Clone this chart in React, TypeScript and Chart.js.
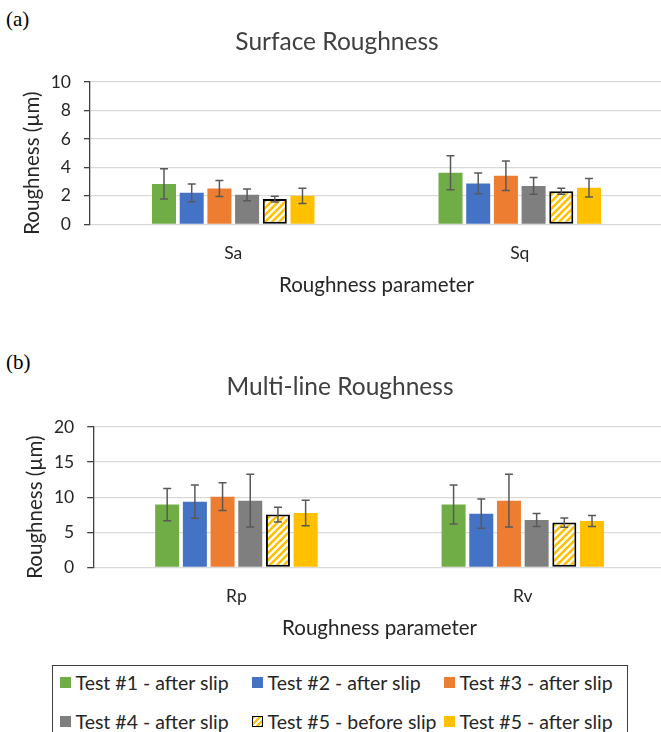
import React, { useEffect, useRef } from 'react';
import { Chart, registerables } from 'chart.js';

Chart.register(...registerables);

const FONT = 'Lato, "Open Sans", sans-serif';
const TEXT = '#262626';
const GRID = '#d9d9d9';
const AXIS = '#404040';
const ERR = '#595959';

// Series shared by both panels
const seriesLabels = [
  'Test #1 - after slip',
  'Test #2 - after slip',
  'Test #3 - after slip',
  'Test #4 - after slip',
  'Test #5 - before slip',
  'Test #5 - after slip',
];
const seriesColors = ['#70AD47', '#4472C4', '#ED7D31', '#7F7F7F', '#FFC000', '#FFC000'];
const hatchedSeries = 4;

// (a) Surface roughness: one value per test, per parameter
const surfaceParams = ['Sa', 'Sq'];
const saMeans = [2.84, 2.21, 2.52, 2.07, 1.77, 2.0];
const saErrors = [1.07, 0.62, 0.56, 0.41, 0.2, 0.53];
const sqMeans = [3.62, 2.87, 3.41, 2.7, 2.33, 2.56];
const sqErrors = [1.2, 0.73, 1.04, 0.59, 0.21, 0.65];
const surfaceTicks = [0, 2, 4, 6, 8, 10];

// (b) Multi-line roughness
const lineParams = ['Rp', 'Rv'];
const rpMeans = [8.94, 9.36, 10.07, 9.5, 7.51, 7.74];
const rpErrors = [2.3, 2.36, 1.98, 3.75, 1.05, 1.83];
const rvMeans = [8.94, 7.65, 9.5, 6.75, 6.37, 6.6];
const rvErrors = [2.78, 2.1, 3.75, 0.93, 0.66, 0.79];
const lineTicks = [0, 5, 10, 15, 20];

const yAxisTitle = 'Roughness (µm)';
const xAxisTitle = 'Roughness parameter';

function makeHatch(): CanvasPattern | string {
  const size = 7;
  const c = document.createElement('canvas');
  c.width = size;
  c.height = size;
  const g = c.getContext('2d');
  if (!g) return seriesColors[hatchedSeries];
  g.fillStyle = '#ffffff';
  g.fillRect(0, 0, size, size);
  g.strokeStyle = seriesColors[hatchedSeries];
  g.lineWidth = 2.6;
  g.lineCap = 'square';
  for (const o of [-size, 0, size]) {
    g.beginPath();
    g.moveTo(o, size);
    g.lineTo(o + size, 0);
    g.stroke();
  }
  return g.createPattern(c, 'repeat') || seriesColors[hatchedSeries];
}

const errorBarPlugin = {
  id: 'errorBars',
  afterDatasetsDraw(chart: any) {
    const { ctx } = chart;
    const yScale = chart.scales.y;
    ctx.save();
    ctx.strokeStyle = ERR;
    ctx.lineWidth = 1.5;
    chart.data.datasets.forEach((ds: any, di: number) => {
      const meta = chart.getDatasetMeta(di);
      meta.data.forEach((bar: any, i: number) => {
        const v = ds.data[i];
        const e = ds.errors[i];
        const top = yScale.getPixelForValue(v + e);
        const bot = yScale.getPixelForValue(v - e);
        const x = bar.x;
        ctx.beginPath();
        ctx.moveTo(x, top);
        ctx.lineTo(x, bot);
        ctx.moveTo(x - 4, top);
        ctx.lineTo(x + 4, top);
        ctx.moveTo(x - 4, bot);
        ctx.lineTo(x + 4, bot);
        ctx.stroke();
      });
    });
    ctx.restore();
  },
};

// Vertical axis title, sitting a little below the middle of the plot
const yTitlePlugin = {
  id: 'yTitle',
  afterDraw(chart: any) {
    const { ctx, chartArea } = chart;
    const yScale = chart.scales.y;
    const x = yScale.left + 21;
    const y = (chartArea.top + chartArea.bottom) / 2 + 10;
    ctx.save();
    ctx.translate(x, y);
    ctx.rotate(-Math.PI / 2);
    ctx.fillStyle = TEXT;
    ctx.font = `20.5px ${FONT}`;
    ctx.textAlign = 'center';
    ctx.textBaseline = 'middle';
    ctx.fillText(yAxisTitle, 0, 0);
    ctx.restore();
  },
};

type PanelSpec = {
  title: string;
  params: string[];
  means: number[][];
  errors: number[][];
  ticks: number[];
  yAxisWidth: number;
  xAxisHeight: number;
};

function buildConfig(spec: PanelSpec): any {
  const hatch = makeHatch();
  const datasets = seriesLabels.map((label, s) => ({
    label,
    data: spec.means.map((m) => m[s]),
    errors: spec.errors.map((e) => e[s]),
    backgroundColor: s === hatchedSeries ? hatch : seriesColors[s],
    borderColor: s === hatchedSeries ? '#000000' : seriesColors[s],
    borderWidth: s === hatchedSeries ? 2 : 0,
    borderSkipped: false,
    categoryPercentage: 0.58,
    barPercentage: 0.867,
  }));
  const ticks = spec.ticks;
  return {
    type: 'bar',
    data: { labels: spec.params, datasets },
    plugins: [errorBarPlugin, yTitlePlugin],
    options: {
      responsive: false,
      animation: false,
      devicePixelRatio: 1,
      layout: { padding: 0 },
      plugins: {
        legend: { display: false },
        tooltip: { enabled: false },
        title: {
          display: true,
          text: spec.title,
          color: AXIS,
          font: { family: FONT, size: 24.5, weight: 'normal' },
          padding: { top: 27.4, bottom: 25.2 },
        },
      },
      scales: {
        x: {
          grid: { display: false, drawTicks: false },
          border: { display: false },
          ticks: { color: TEXT, font: { family: FONT, size: 17.5 }, padding: 18.2 },
          title: {
            display: true,
            text: xAxisTitle,
            color: TEXT,
            font: { family: FONT, size: 20.5 },
            padding: { top: 9.5, bottom: 12.7 },
          },
          afterFit: (scale: any) => {
            scale.height = spec.xAxisHeight;
          },
        },
        y: {
          min: ticks[0],
          max: ticks[ticks.length - 1],
          ticks: {
            stepSize: ticks[1] - ticks[0],
            autoSkip: false,
            color: TEXT,
            font: { family: FONT, size: 17.5 },
            padding: 13,
          },
          grid: {
            color: GRID,
            lineWidth: 1.3,
            drawTicks: true,
            tickLength: 6,
            tickColor: AXIS,
            tickWidth: 1.3,
          },
          border: { display: true, color: AXIS, width: 1.3 },
          title: { display: false },
          afterFit: (scale: any) => {
            scale.width = spec.yAxisWidth;
          },
        },
      },
    },
  };
}

function BarPanel({ spec, left, top, height }: { spec: PanelSpec; left: number; top: number; height: number }) {
  const ref = useRef<HTMLCanvasElement>(null);
  useEffect(() => {
    if (!ref.current) return;
    const chart = new Chart(ref.current, buildConfig(spec));
    return () => chart.destroy();
  }, [spec]);
  return (
    <canvas
      ref={ref}
      width={652}
      height={height}
      style={{ position: 'absolute', left, top, width: 652, height }}
    />
  );
}

const surfaceSpec: PanelSpec = {
  title: 'Surface Roughness',
  params: surfaceParams,
  means: [saMeans, sqMeans],
  errors: [saErrors, sqErrors],
  ticks: surfaceTicks,
  yAxisWidth: 79,
  xAxisHeight: 85.7,
};

const lineSpec: PanelSpec = {
  title: 'Multi-line Roughness',
  params: lineParams,
  means: [rpMeans, rvMeans],
  errors: [rpErrors, rvErrors],
  ticks: lineTicks,
  yAxisWidth: 79.2,
  xAxisHeight: 85.7,
};

const legendCols = [6.5, 198.5, 390.5];
const legendRows = [16.5, 55.5];

function LegendSwatch({ index }: { index: number }) {
  const base: React.CSSProperties = { width: 11, height: 11, flex: '0 0 auto', boxSizing: 'border-box' };
  if (index === hatchedSeries) {
    return (
      <span
        style={{
          ...base,
          border: '1px solid #000',
          background: `repeating-linear-gradient(135deg, ${seriesColors[index]} 0 2px, #ffffff 2px 4px)`,
        }}
      />
    );
  }
  return <span style={{ ...base, background: seriesColors[index] }} />;
}

function PanelTag({ text, top }: { text: string; top: number }) {
  return (
    <div
      style={{
        position: 'absolute',
        left: 6,
        top,
        font: '21px "Liberation Serif", "DejaVu Serif", serif',
        color: '#000',
        lineHeight: '24px',
      }}
    >
      {text}
    </div>
  );
}

export default function App() {
  return (
    <div
      style={{
        position: 'fixed',
        left: 0,
        top: 0,
        width: 661,
        height: 732,
        overflow: 'hidden',
        background: '#ffffff',
      }}
    >
      <PanelTag text="(a)" top={7} />
      <BarPanel spec={surfaceSpec} left={11} top={0} height={310} />
      <PanelTag text="(b)" top={350} />
      <BarPanel spec={lineSpec} left={13.5} top={345} height={308} />
      <div
        style={{
          position: 'absolute',
          left: 52,
          top: 665,
          width: 576,
          height: 100,
          border: `1.5px solid ${AXIS}`,
          boxSizing: 'border-box',
        }}
      >
        {seriesLabels.map((label, i) => (
          <div
            key={label}
            style={{
              position: 'absolute',
              left: legendCols[i % 3],
              top: legendRows[Math.floor(i / 3)] - 12,
              height: 24,
              display: 'flex',
              alignItems: 'center',
              whiteSpace: 'nowrap',
              font: `19.5px ${FONT}`,
              color: TEXT,
            }}
          >
            <LegendSwatch index={i} />
            <span style={{ marginLeft: 5, lineHeight: '24px' }}>{label}</span>
          </div>
        ))}
      </div>
    </div>
  );
}
